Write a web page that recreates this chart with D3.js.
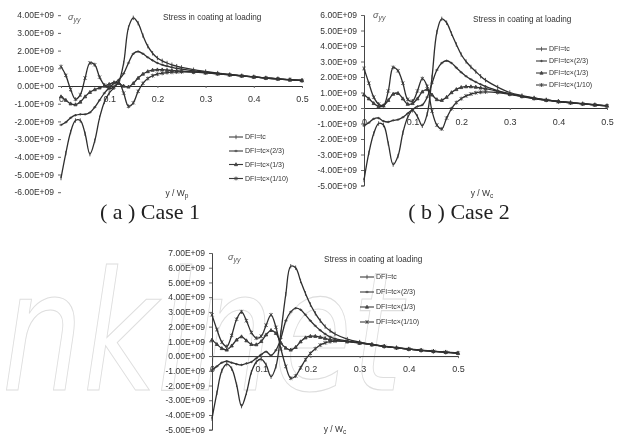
<!DOCTYPE html>
<html>
<head>
<meta charset="utf-8">
<script src="https://cdn.jsdelivr.net/npm/d3@7"></script>
<style>
  html, body { margin: 0; padding: 0; background: #fff; }
  svg { display: block; }
  text { font-family: "Liberation Sans", Arial, sans-serif; fill: #333; }
</style>
</head>
<body>
<svg id="chart" width="618" height="436"></svg>
<script>
// ---------------- DATA (stress values in units of 1E+09) ----------------
const xValues = [0, 0.01, 0.02, 0.03, 0.04, 0.05, 0.06, 0.07, 0.08, 0.09, 0.10, 0.11, 0.12, 0.13,
  0.14, 0.15, 0.16, 0.17, 0.18, 0.19, 0.20, 0.21, 0.22, 0.23, 0.24, 0.25,
  0.275, 0.3, 0.325, 0.35, 0.375, 0.4, 0.425, 0.45, 0.475, 0.5];

const seriesNames = ["DFI=tc", "DFI=tc×(2/3)", "DFI=tc×(1/3)", "DFI=tc×(1/10)"];
const xTickLabels = ["0", "0.1", "0.2", "0.3", "0.4", "0.5"];
const xTickValues = [0, 0.1, 0.2, 0.3, 0.4, 0.5];
const titleText = "Stress in coating at loading";
const captions = ["( a ) Case 1", "( b ) Case 2"];
const watermarkText = "nkinet";

const case1Ticks = [-6, -5, -4, -3, -2, -1, 0, 1, 2, 3, 4];
const case2Ticks = [-5, -4, -3, -2, -1, 0, 1, 2, 3, 4, 5, 6];
const case3Ticks = [-5, -4, -3, -2, -1, 0, 1, 2, 3, 4, 5, 6, 7];

// Case 1
const case1_tc   = [-5.2, -3.8, -2.6, -1.95, -1.95, -2.7, -3.85, -3.1, -1.8, -0.9, -0.4, -0.1, 0.25, 1.3,
  3.3, 3.85, 3.55, 2.85, 2.25, 1.85, 1.58, 1.42, 1.3, 1.2, 1.12, 1.05,
  0.92, 0.82, 0.73, 0.65, 0.58, 0.52, 0.46, 0.41, 0.36, 0.32];
const case1_t23  = [-2.2, -2.05, -1.8, -1.65, -1.6, -1.6, -1.5, -1.2, -0.8, -0.4, -0.1, 0.15, 0.35, 0.7,
  1.3, 1.82, 1.95, 1.82, 1.62, 1.45, 1.3, 1.2, 1.12, 1.05, 1.0, 0.95,
  0.86, 0.78, 0.71, 0.64, 0.57, 0.51, 0.45, 0.4, 0.35, 0.31];
const case1_t13  = [-0.6, -0.8, -1.0, -1.05, -0.9, -0.6, -0.35, -0.2, -0.1, 0.0, 0.1, 0.2, 0.15, 0.0,
  -0.05, 0.15, 0.45, 0.68, 0.82, 0.9, 0.92, 0.92, 0.9, 0.88, 0.86, 0.84,
  0.8, 0.75, 0.69, 0.63, 0.57, 0.51, 0.45, 0.4, 0.35, 0.31];
const case1_t110 = [1.1, 0.6, -0.2, -0.75, -0.5, 0.45, 1.3, 1.2, 0.5, 0.05, -0.15, -0.05, 0.2, -0.4,
  -1.15, -0.95, -0.3, 0.15, 0.42, 0.58, 0.67, 0.72, 0.76, 0.78, 0.79, 0.8,
  0.78, 0.74, 0.69, 0.63, 0.57, 0.51, 0.45, 0.4, 0.35, 0.31];

// Case 2
const case2_tc   = [-4.65, -2.9, -1.65, -1.0, -1.1, -2.3, -3.65, -3.1, -1.6, -0.6, -0.15, -0.55, -1.15, -0.4,
  2.0, 4.9, 5.75, 5.5, 4.8, 4.1, 3.45, 3.0, 2.65, 2.35, 2.05, 1.8,
  1.35, 1.0, 0.8, 0.65, 0.53, 0.43, 0.35, 0.28, 0.21, 0.15];
const case2_t23  = [-1.15, -0.95, -0.7, -0.65, -0.85, -0.9, -0.8, -0.75, -0.6, -0.35, -0.1, 0.1, 0.2, 0.7,
  1.6, 2.45, 2.9, 3.05, 2.9, 2.6, 2.3, 2.05, 1.85, 1.68, 1.53, 1.4,
  1.12, 0.92, 0.76, 0.63, 0.52, 0.42, 0.34, 0.27, 0.2, 0.14];
const case2_t13  = [0.85, 0.6, 0.3, 0.1, 0.15, 0.5, 0.9, 0.95, 0.6, 0.25, 0.3, 0.6, 1.05, 1.2,
  0.85, 0.55, 0.5, 0.7, 1.0, 1.2, 1.33, 1.38, 1.38, 1.35, 1.3, 1.25,
  1.08, 0.9, 0.75, 0.62, 0.51, 0.42, 0.34, 0.27, 0.2, 0.14];
const case2_t110 = [2.55, 1.6, 0.7, 0.25, 0.15, 1.1, 2.62, 2.4, 1.6, 0.55, 0.45, 1.1, 1.9, 1.4,
  -0.2, -1.1, -1.35, -0.65, -0.05, 0.35, 0.6, 0.78, 0.9, 0.98, 1.02, 1.04,
  1.0, 0.88, 0.74, 0.61, 0.5, 0.41, 0.33, 0.26, 0.2, 0.14];

// Case 3
const case3_tc   = [-4.25, -2.5, -1.0, -0.55, -0.85, -1.95, -3.4, -2.5, -1.1, -0.4, -0.2, -0.6, -1.4, -0.7,
  1.6, 4.2, 6.1, 6.0, 5.1, 4.25, 3.5, 2.9, 2.4, 2.0, 1.72, 1.5,
  1.15, 0.95, 0.8, 0.67, 0.57, 0.48, 0.4, 0.33, 0.27, 0.21];
const case3_t23  = [-0.95, -0.7, -0.45, -0.35, -0.45, -0.55, -0.6, -0.5, -0.4, -0.15, 0.1, 0.3, 0.05, 0.4,
  1.2, 2.4, 3.0, 3.25, 3.15, 2.8, 2.4, 2.05, 1.75, 1.5, 1.3, 1.18,
  1.02, 0.9, 0.78, 0.66, 0.56, 0.47, 0.39, 0.32, 0.26, 0.2];
const case3_t13  = [1.1, 0.8, 0.52, 0.42, 0.7, 1.1, 1.32, 1.05, 0.8, 0.78, 1.0, 1.45, 1.75, 1.55,
  0.9, 0.55, 0.42, 0.6, 0.98, 1.25, 1.35, 1.35, 1.28, 1.2, 1.12, 1.07,
  0.98, 0.88, 0.77, 0.66, 0.56, 0.47, 0.39, 0.32, 0.26, 0.2];
const case3_t110 = [2.8, 1.8, 0.95, 0.65, 1.4, 2.5, 3.0, 2.4, 1.6, 1.22, 1.35, 2.1, 2.8, 1.95,
  0.5, -0.7, -1.5, -1.35, -0.8, -0.25, 0.18, 0.5, 0.75, 0.9, 0.98, 1.02,
  1.0, 0.9, 0.78, 0.66, 0.56, 0.47, 0.39, 0.32, 0.26, 0.2];

// ---------------- LAYOUT ----------------
const svg = d3.select("#chart");

const defs = svg.append("defs");
defs.append("filter").attr("id", "scan").attr("x", "-5%").attr("y", "-5%").attr("width", "110%").attr("height", "110%")
  .append("feGaussianBlur").attr("stdDeviation", 0.35);

// faint outlined watermark
svg.append("text")
  .attr("x", 2).attr("y", 390)
  .attr("textLength", 400).attr("lengthAdjust", "spacingAndGlyphs")
  .style("font-family", "'DejaVu Sans', sans-serif")
  .style("font-style", "italic").style("font-size", "165px")
  .style("fill", "none").style("stroke", "#dedede").style("stroke-width", 1.1)
  .text(watermarkText);

const fmtY = v => {
  const s = (v * 1e9).toExponential(2);
  const [m, e] = s.split("e");
  const sign = e[0] === "-" ? "-" : "+";
  const ex = e.replace(/[+-]/, "").padStart(2, "0");
  return m + "E" + sign + ex;
};

const charts = [
  { series: [case1_tc, case1_t23, case1_t13, case1_t110], ticks: case1Ticks,
    xr: [61, 302], yd: [-6, 4], yr: [192.2, 15.2], axisLine: false,
    title: [163, 20], sigma: [68, 20], xt: [177, 196], xlabDy: 16,
    leg: { x1: 229, x2: 243, tx: 245, ys: [137, 151, 164.5, 178.5] }, sub: "p",
    caption: { text: captions[0], x: 150, y: 219 } },
  { series: [case2_tc, case2_t23, case2_t13, case2_t110], ticks: case2Ticks,
    xr: [364, 607], yd: [-5, 6], yr: [185.5, 15], axisLine: true,
    title: [473, 22], sigma: [373, 18], xt: [482, 196], xlabDy: 17,
    leg: { x1: 536, x2: 547, tx: 549, ys: [49, 61, 73, 85] }, sub: "c",
    caption: { text: captions[1], x: 459, y: 219 } },
  { series: [case3_tc, case3_t23, case3_t13, case3_t110], ticks: case3Ticks,
    xr: [212, 458], yd: [-5, 7], yr: [429.7, 253], axisLine: true,
    title: [324, 262], sigma: [228, 260], xt: [335, 432], xlabDy: 15.5,
    leg: { x1: 360, x2: 374, tx: 376, ys: [277, 292, 307, 322] }, sub: "c",
    caption: null }
];

const markerPaths = [
  "M0,-2.2V2.2",                         // tc : vertical tick
  "M-1.6,0H1.6M0,-1.2V1.2",              // 2/3: small plus
  "M0,-1.8L1.6,1.2L-1.6,1.2Z",           // 1/3: triangle
  "M-1.6,-1.6L1.6,1.6M-1.6,1.6L1.6,-1.6M0,-2V2" // 1/10: asterisk
];
const ink = "#333";

charts.forEach(c => {
  const g = svg.append("g").attr("filter", "url(#scan)");
  const x = d3.scaleLinear().domain([0, 0.5]).range(c.xr);
  const y = d3.scaleLinear().domain(c.yd).range(c.yr);

  // y axis
  const yAxis = d3.axisLeft(y).tickValues(c.ticks).tickFormat(fmtY).tickSize(3).tickPadding(4);
  const ya = g.append("g").attr("transform", `translate(${c.xr[0]},0)`).call(yAxis);
  ya.select(".domain").attr("stroke", c.axisLine ? "#444" : "none").attr("stroke-width", 1);
  ya.selectAll(".tick line").attr("stroke", "#666");
  ya.selectAll(".tick text").style("font-size", "8.5px").style("fill", ink)
    .style("font-family", "'Liberation Sans', Arial, sans-serif");

  // x axis through zero
  const xAxis = d3.axisBottom(x).tickValues(xTickValues).tickFormat((d, i) => xTickLabels[i]).tickSize(2).tickPadding(0);
  const xa = g.append("g").attr("transform", `translate(0,${y(0)})`).call(xAxis);
  xa.select(".domain").attr("stroke", "#333").attr("stroke-width", 1);
  xa.selectAll(".tick line").attr("stroke", "#666");
  xa.selectAll(".tick text").attr("dy", null).attr("y", c.xlabDy)
    .style("font-size", "9px").style("fill", ink)
    .style("font-family", "'Liberation Sans', Arial, sans-serif");

  // series lines and markers
  const line = d3.line().x((d, i) => x(xValues[i])).y(d => y(d)).curve(d3.curveCatmullRom.alpha(0.5));
  c.series.forEach((s, k) => {
    g.append("path").datum(s).attr("d", line)
      .attr("fill", "none").attr("stroke", "#2e2e2e").attr("stroke-width", 1.3);
    g.selectAll(null).data(s).enter().append("path")
      .attr("transform", (d, i) => `translate(${x(xValues[i])},${y(d)})`)
      .attr("d", markerPaths[k]).attr("fill", k === 2 ? "#444" : "none")
      .attr("stroke", "#3a3a3a").attr("stroke-width", 0.85);
  });

  // title, sigma label, x title
  g.append("text").attr("x", c.title[0]).attr("y", c.title[1])
    .style("font-size", "8.2px").text(titleText);
  const sg = g.append("text").attr("x", c.sigma[0]).attr("y", c.sigma[1])
    .style("font-size", "9px").style("font-style", "italic").style("fill", "#555");
  sg.append("tspan").text("σ");
  sg.append("tspan").attr("dy", 1.5).style("font-size", "7px").text("yy");
  const xt = g.append("text").attr("x", c.xt[0]).attr("y", c.xt[1])
    .attr("text-anchor", "middle").style("font-size", "8.5px");
  xt.append("tspan").text("y / W");
  xt.append("tspan").attr("dy", 1.5).style("font-size", "6.5px").text(c.sub);

  // legend
  const lg = g.append("g");
  c.leg.ys.forEach((ly, k) => {
    lg.append("line").attr("x1", c.leg.x1).attr("x2", c.leg.x2).attr("y1", ly).attr("y2", ly)
      .attr("stroke", "#3a3a3a").attr("stroke-width", 1.1);
    lg.append("path").attr("transform", `translate(${(c.leg.x1 + c.leg.x2) / 2},${ly})`)
      .attr("d", markerPaths[k]).attr("fill", k === 2 ? "#444" : "none")
      .attr("stroke", "#444").attr("stroke-width", 0.8);
    lg.append("text").attr("x", c.leg.tx).attr("y", ly + 2.4)
      .style("font-size", "7px").text(seriesNames[k]);
  });

  if (c.caption) {
    svg.append("text").attr("x", c.caption.x).attr("y", c.caption.y)
      .attr("text-anchor", "middle")
      .style("font-family", "'Liberation Serif', 'DejaVu Serif', serif")
      .style("font-size", "22px").style("fill", "#222")
      .text(c.caption.text);
  }
});
</script>
</body>
</html>
